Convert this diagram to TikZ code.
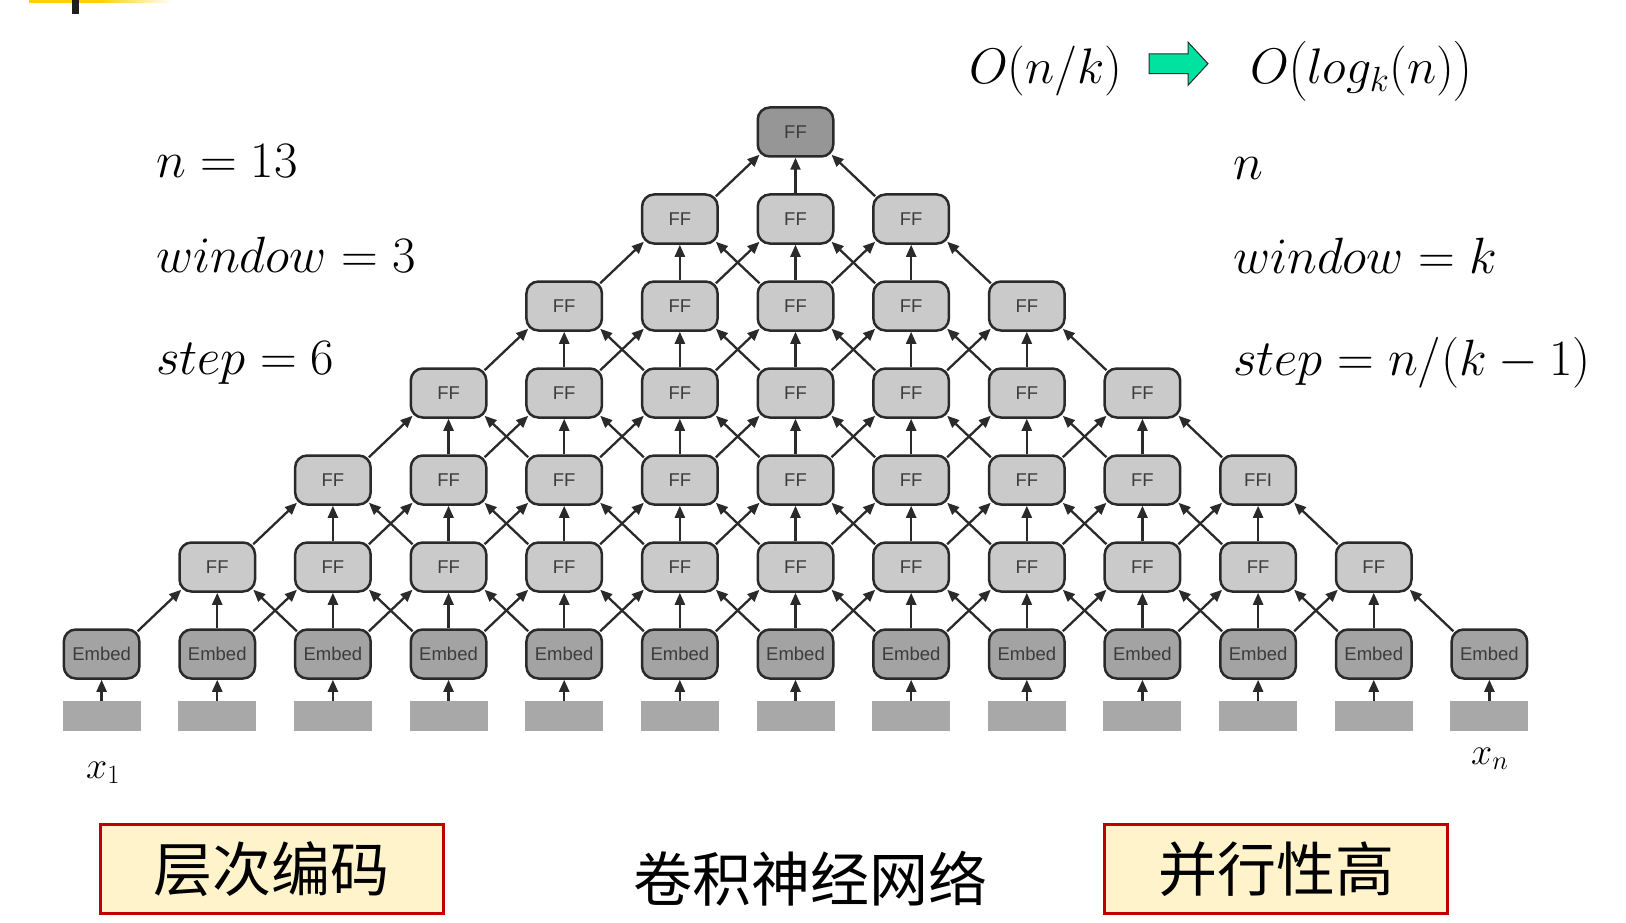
\RequirePackage{fix-cm}
\documentclass[tikz,border=0pt]{standalone}
\usepackage{amsmath}
\usepackage{fontspec}
\newfontfamily\sansf{Liberation Sans}
\newfontfamily\cjk{Noto Sans CJK SC}
\usetikzlibrary{arrows.meta,calc}
\definecolor{linec}{RGB}{42,42,42}
\definecolor{ffgray}{RGB}{202,202,202}
\definecolor{embgray}{RGB}{163,163,163}
\definecolor{topgray}{RGB}{150,150,150}
\definecolor{inpgray}{RGB}{168,168,168}
\definecolor{txtgray}{RGB}{60,60,60}
\definecolor{boxfill}{RGB}{255,243,204}
\definecolor{boxred}{RGB}{192,0,0}
\definecolor{mint}{RGB}{0,226,160}
\definecolor{baryellow}{RGB}{255,210,0}
\begin{document}
\begin{tikzpicture}[x=1pt,y=-1pt,
  ff/.style={draw=linec, line width=2.5pt, rounded corners=12pt, fill=ffgray,
    minimum width=75.5pt, minimum height=49pt, inner sep=0pt,
    font=\sansf\fontsize{18.5}{20}\selectfont, text=txtgray},
  emb/.style={ff, fill=embgray},
  topff/.style={ff, fill=topgray},
  inp/.style={fill=inpgray, minimum width=78pt, minimum height=30pt, inner sep=0pt},
  conn/.style={line width=2.3pt, draw=linec, -{Triangle[length=12pt,width=10pt]}},
  mtxt/.style={inner sep=0pt, anchor=base west, font=\fontsize{51}{60}\selectfont},
  ttxt/.style={inner sep=0pt, anchor=base west, font=\fontsize{50}{58}\selectfont},
  xtxt/.style={inner sep=0pt, anchor=base west, font=\fontsize{38}{44}\selectfont},
  cbox/.style={draw=boxred, fill=boxfill, line width=3pt, minimum width=343pt,
    minimum height=89pt, inner sep=0pt, font=\cjk\fontsize{59}{62}\selectfont},
  ctxt/.style={inner sep=0pt, font=\cjk\fontsize{59}{62}\selectfont}
]
\useasboundingbox (0,0) rectangle (1626,923);
% top-left decoration
\fill[baryellow] (29,0) rectangle (100,3);
\shade[left color=baryellow, right color=white] (100,0) rectangle (172,3);
\fill[black!88] (72,0) rectangle (79,14);

% inputs and embeddings
\foreach \c in {1,...,13} {
  \pgfmathsetmacro\xx{101.6+(\c-1)*115.65}
  \node[inp] (in-\c) at (\xx,716) {};
  \node[emb] (n-0-\c) at (\xx,654) {Embed};
  \draw[conn] (in-\c.north) -- (n-0-\c.south);
}
% FF rows
\foreach \r in {1,...,6} {
  \pgfmathtruncatemacro\cmin{\r+1}
  \pgfmathtruncatemacro\cmax{13-\r}
  \foreach \c in {\cmin,...,\cmax} {
    \pgfmathsetmacro\xx{101.6+(\c-1)*115.65}
    \pgfmathsetmacro\yy{654-\r*87}
    \def\lab{FF}
    \ifnum\r=2 \ifnum\c=11 \def\lab{FFI}\fi\fi
    \ifnum\r=6
      \node[topff] (n-\r-\c) at (\xx,\yy) {\lab};
    \else
      \node[ff] (n-\r-\c) at (\xx,\yy) {\lab};
    \fi
  }
}
% connectors
\foreach \r in {1,...,6} {
  \pgfmathtruncatemacro\cmin{\r+1}
  \pgfmathtruncatemacro\cmax{13-\r}
  \pgfmathtruncatemacro\rl{\r-1}
  \foreach \c in {\cmin,...,\cmax} {
    \pgfmathtruncatemacro\cl{\c-1}
    \pgfmathtruncatemacro\cr{\c+1}
    \draw[conn] ($(n-\rl-\cl.north east)+(-3pt,-3pt)$) -- ($(n-\r-\c.south west)+(3pt,3pt)$);
    \draw[conn] (n-\rl-\c.north) -- (n-\r-\c.south);
    \draw[conn] ($(n-\rl-\cr.north west)+(3pt,-3pt)$) -- ($(n-\r-\c.south east)+(-3pt,3pt)$);
  }
}

% left texts
\node[mtxt] (l1) at (156,178) {$n = 13$};
\node[mtxt] (l2) at (156,272) {$window = 3$};
\node[mtxt] (l3) at (156,374) {$step = 6$};
% right texts
\node[mtxt] (r1) at (1233,180) {$n$};
\node[mtxt] (r2) at (1233,273) {$window = k$};
\node[mtxt] (r3) at (1233,375) {$step = n/(k-1)$};
% top formula
\node[ttxt] (f1) at (969,84) {$O(n/k)$};
\node[ttxt] (f2) at (1250,84) {$O\bigl(log_k(n)\bigr)$};
\draw[linec, line width=1pt, fill=mint]
  (1149,53.9) -- (1188,53.9) -- (1188,42.1) -- (1208,63.7) -- (1188,85.3) -- (1188,73.6) -- (1149,73.6) -- cycle;
% x labels
\node[xtxt] (x1) at (86,778) {$x_1$};
\node[xtxt] (xn) at (1471,764) {$x_n$};
% bottom boxes
\node[cbox] (b1) at (271.5,869) {层次编码};
\node[cbox] (b2) at (1276,869) {并行性高};
\node[ctxt] (b3) at (810,879) {卷积神经网络};
\end{tikzpicture}
\end{document}
